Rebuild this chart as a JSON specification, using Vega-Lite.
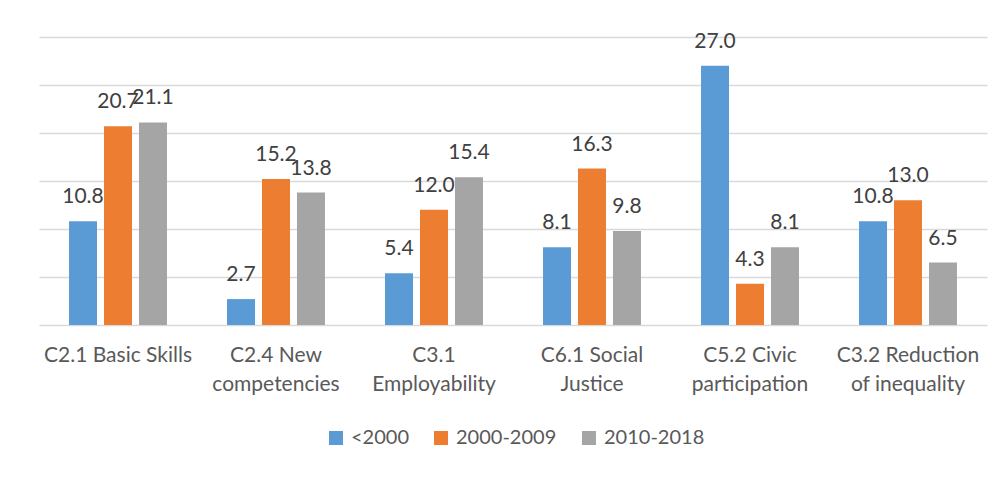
{
  "$schema": "https://vega.github.io/schema/vega-lite/v6.json",
  "autosize": {"type": "none"},
  "width": 948,
  "height": 288,
  "padding": {"left": 39, "top": 37, "right": 16, "bottom": 154},
  "background": "white",
  "config": {
    "view": {"stroke": null},
    "font": "Lato",
    "axis": {"labelFont": "Lato", "labelColor": "#595959"},
    "legend": {"labelFont": "Lato"}
  },
  "data": {
    "values": [
      {"category": "C2.1 Basic Skills", "period": "<2000", "value": 10.8},
      {"category": "C2.1 Basic Skills", "period": "2000-2009", "value": 20.7},
      {"category": "C2.1 Basic Skills", "period": "2010-2018", "value": 21.1},
      {"category": "C2.4 New competencies", "period": "<2000", "value": 2.7},
      {"category": "C2.4 New competencies", "period": "2000-2009", "value": 15.2},
      {"category": "C2.4 New competencies", "period": "2010-2018", "value": 13.8},
      {"category": "C3.1 Employability", "period": "<2000", "value": 5.4},
      {"category": "C3.1 Employability", "period": "2000-2009", "value": 12.0},
      {"category": "C3.1 Employability", "period": "2010-2018", "value": 15.4},
      {"category": "C6.1 Social Justice", "period": "<2000", "value": 8.1},
      {"category": "C6.1 Social Justice", "period": "2000-2009", "value": 16.3},
      {"category": "C6.1 Social Justice", "period": "2010-2018", "value": 9.8},
      {"category": "C5.2 Civic participation", "period": "<2000", "value": 27.0},
      {"category": "C5.2 Civic participation", "period": "2000-2009", "value": 4.3},
      {"category": "C5.2 Civic participation", "period": "2010-2018", "value": 8.1},
      {"category": "C3.2 Reduction of inequality", "period": "<2000", "value": 10.8},
      {"category": "C3.2 Reduction of inequality", "period": "2000-2009", "value": 13.0},
      {"category": "C3.2 Reduction of inequality", "period": "2010-2018", "value": 6.5}
    ]
  },
  "encoding": {
    "x": {
      "field": "category",
      "type": "nominal",
      "sort": null,
      "scale": {"paddingInner": 0.38, "paddingOuter": 0.19},
      "axis": {
        "title": null,
        "labelAngle": 0,
        "domain": false,
        "ticks": false,
        "labelFontSize": 21,
        "labelPadding": 19,
        "labelLineHeight": 29,
        "labelBaseline": "top",
        "labelLimit": 300,
        "labelExpr": "datum.value == 'C2.4 New competencies' ? ['C2.4 New', 'competencies'] : datum.value == 'C3.1 Employability' ? ['C3.1', 'Employability'] : datum.value == 'C6.1 Social Justice' ? ['C6.1 Social', 'Justice'] : datum.value == 'C5.2 Civic participation' ? ['C5.2 Civic', 'participation'] : datum.value == 'C3.2 Reduction of inequality' ? ['C3.2 Reduction', 'of inequality'] : datum.value"
      }
    },
    "xOffset": {
      "field": "period",
      "type": "nominal",
      "sort": ["<2000", "2000-2009", "2010-2018"],
      "scale": {"paddingInner": 0.2, "paddingOuter": 0}
    },
    "y": {
      "field": "value",
      "type": "quantitative",
      "scale": {"domain": [0, 30], "nice": false},
      "axis": {
        "title": null,
        "labels": false,
        "ticks": false,
        "domain": false,
        "grid": true,
        "gridColor": "#d9d9d9",
        "gridWidth": 1.3,
        "values": [0, 5, 10, 15, 20, 25, 30]
      }
    }
  },
  "layer": [
    {
      "mark": {"type": "bar"},
      "encoding": {
        "color": {
          "field": "period",
          "type": "nominal",
          "sort": ["<2000", "2000-2009", "2010-2018"],
          "scale": {
            "domain": ["<2000", "2000-2009", "2010-2018"],
            "range": ["#5B9BD5", "#ED7D31", "#A5A5A5"]
          },
          "legend": {
            "title": null,
            "orient": "none",
            "legendX": 287,
            "legendY": 391,
            "padding": 0,
            "direction": "horizontal",
            "symbolType": "square",
            "symbolSize": 196,
            "symbolStrokeWidth": 0,
            "labelFontSize": 20,
            "labelColor": "#595959",
            "labelOffset": 5,
            "columnPadding": 22
          }
        }
      }
    },
    {
      "mark": {"type": "text", "baseline": "alphabetic", "dy": -18, "fontSize": 21, "color": "#404040", "font": "Lato"},
      "encoding": {
        "text": {"field": "value", "type": "quantitative", "format": ".1f"}
      }
    }
  ]
}
